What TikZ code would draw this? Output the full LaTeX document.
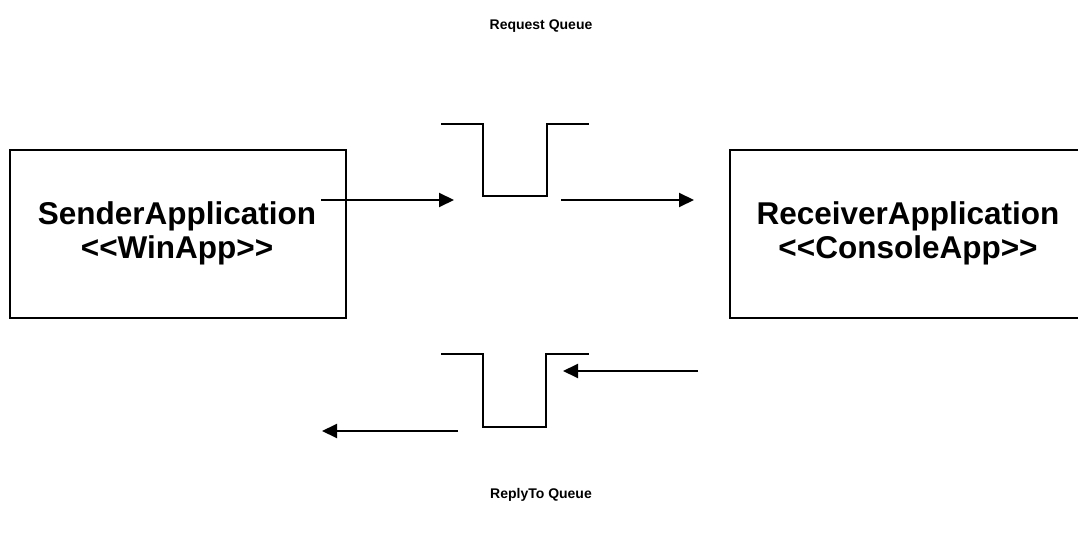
\documentclass[tikz,border=0pt]{standalone}
\usepackage{fontspec}
\setmainfont{Liberation Sans}
\usetikzlibrary{arrows.meta}
\newcommand{\dlt}{\textless\kern0pt\textless}
\newcommand{\dgt}{\textgreater\kern0pt\textgreater}
\begin{document}
\begin{tikzpicture}[x=1pt,y=-1pt,
  appbox/.style={draw, line width=1.5pt, minimum width=336pt, minimum height=168pt, inner sep=0pt},
  apptext/.style={font=\fontsize{31.5}{34}\selectfont\bfseries, align=center, anchor=base, inner sep=0pt},
  qlabel/.style={font=\fontsize{14}{16}\selectfont\bfseries, anchor=base, inner sep=0pt},
  queue/.style={line width=2pt},
  flow/.style={line width=2pt, -{Triangle[length=15pt,width=14pt]}}]
\useasboundingbox (0,0) rectangle (1078,534);
% application boxes
\node[appbox] (sender) at (178,234) {};
\node[apptext] (sendertxt) at (177,259) {SenderApplication\\\dlt WinApp\dgt};
\node[appbox, minimum width=356pt] (receiver) at (908,234) {};
\node[apptext] (receivertxt) at (908,259) {ReceiverApplication\\\dlt ConsoleApp\dgt};
% queue labels
\node[qlabel] (reqlabel) at (541,30) {Request Queue};
\node[qlabel] (replabel) at (541,498) {ReplyTo Queue};
% request queue
\coordinate (rq1) at (441,124);
\coordinate (rq2) at (483,124);
\coordinate (rq3) at (483,196);
\coordinate (rq4) at (547,196);
\coordinate (rq5) at (547,124);
\coordinate (rq6) at (589,124);
\draw[queue] (rq1) -- (rq2) -- (rq3) -- (rq4) -- (rq5) -- (rq6);
% reply queue
\coordinate (pq1) at (441,354);
\coordinate (pq2) at (483,354);
\coordinate (pq3) at (483,427);
\coordinate (pq4) at (546,427);
\coordinate (pq5) at (546,354);
\coordinate (pq6) at (589,354);
\draw[queue] (pq1) -- (pq2) -- (pq3) -- (pq4) -- (pq5) -- (pq6);
% arrows
\coordinate (a1s) at (321,200);
\coordinate (a1e) at (454,200);
\coordinate (a2s) at (561,200);
\coordinate (a2e) at (694,200);
\coordinate (a3s) at (698,371);
\coordinate (a3e) at (563,371);
\coordinate (a4s) at (458,431);
\coordinate (a4e) at (322,431);
\draw[flow] (a1s) -- (a1e);
\draw[flow] (a2s) -- (a2e);
\draw[flow] (a3s) -- (a3e);
\draw[flow] (a4s) -- (a4e);
\end{tikzpicture}
\end{document}
